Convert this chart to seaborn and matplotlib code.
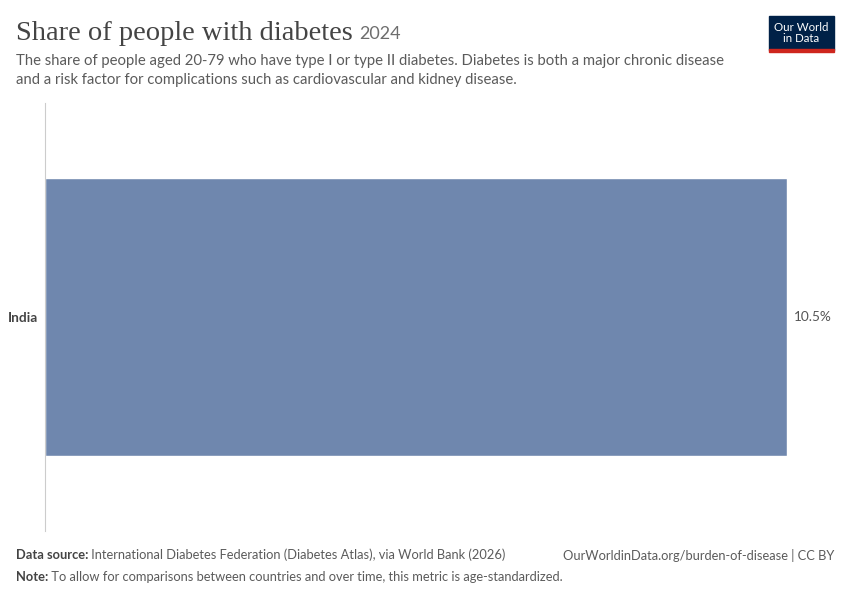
import matplotlib
matplotlib.use("Agg")
import matplotlib.pyplot as plt
import matplotlib.patches as mpatches
import seaborn as sns
import pandas as pd

# data
countries = ["India"]
values = [10.5]
labels = ["10.5%"]

df = pd.DataFrame({"country": countries, "value": values})

sns.set_style("white")
plt.rcParams["font.family"] = ["Lato", "DejaVu Sans"]

fig = plt.figure(figsize=(8.5, 6), dpi=100)
ax = fig.add_axes([45 / 850, 1 - 531 / 600, (787 - 45) / 850, (531 - 103) / 600])

sns.barplot(data=df, x="value", y="country", color="#6F87AE", saturation=1,
            width=0.65, ax=ax, orient="h")
ax.set_xlim(0, values[0])
ax.set_ylim(0.5, -0.5)
ax.set_xlabel("")
ax.set_ylabel("")
ax.set_xticks([])
for s in ["top", "right", "bottom"]:
    ax.spines[s].set_visible(False)
ax.spines["left"].set_color("#cccccc")
ax.spines["left"].set_linewidth(0.8)
ax.tick_params(axis="y", length=0, pad=5)
for t in ax.get_yticklabels():
    t.set_fontweight("bold")
    t.set_fontsize(9.8)
    t.set_color("#444444")

for i, (v, lab) in enumerate(zip(values, labels)):
    ax.annotate(lab, (v, i), xytext=(5, 0), textcoords="offset points", va="center",
                ha="left", fontsize=9.8, color="#555555", annotation_clip=False)

renderer = fig.canvas.get_renderer()


def text_pair(x, y, first, second, size, c1, c2):
    # bold lead-in followed by normal text
    t = fig.text(x, y, first, fontsize=size, color=c1, fontweight="bold", va="center")
    bb = t.get_window_extent(renderer)
    fig.text(bb.x1 / fig.bbox.width, y, " " + second, fontsize=size, color=c2, va="center")
    return t


# header
title = fig.text(16 / 850, 1 - 33 / 600, "Share of people with diabetes", fontsize=20.5,
                 family=["Liberation Serif", "DejaVu Serif"], color="#444444", va="center")
bb = title.get_window_extent(renderer)
fig.text(bb.x1 / 850 + 6 / 850, 1 - 34 / 600, "2024", fontsize=13, color="#6e6e6e",
         va="center")
fig.text(16 / 850, 1 - 61 / 600, "The share of people aged 20-79 who have type I or type II diabetes. "
         "Diabetes is both a major chronic disease", fontsize=10.7, color="#5b5b5b", va="center")
fig.text(16 / 850, 1 - 80 / 600, "and a risk factor for complications such as cardiovascular "
         "and kidney disease.", fontsize=10.7, color="#5b5b5b", va="center")

# logo
fig.patches.append(mpatches.Rectangle((769 / 850, 1 - 50 / 600), 65 / 850, 34 / 600,
                                      transform=fig.transFigure, color="#002147"))
fig.patches.append(mpatches.Rectangle((769 / 850, 1 - 52 / 600), 65 / 850, 3 / 600,
                                      transform=fig.transFigure, color="#CE261E"))
fig.text(801.5 / 850, 1 - 33 / 600, "Our World\nin Data", fontsize=8.3, color="white",
         ha="center", va="center", linespacing=1.0)

# footer
text_pair(16 / 850, 1 - 555 / 600, "Data source:",
          "International Diabetes Federation (Diabetes Atlas), via World Bank (2026)",
          9.3, "#444444", "#5b5b5b")
fig.text(834 / 850, 1 - 555 / 600, "OurWorldinData.org/burden-of-disease | CC BY",
         fontsize=9.3, color="#5b5b5b", va="center", ha="right")
text_pair(16 / 850, 1 - 577 / 600, "Note:",
          "To allow for comparisons between countries and over time, this metric is age-standardized.",
          9.3, "#444444", "#5b5b5b")

fig.savefig("out.png", dpi=100)
